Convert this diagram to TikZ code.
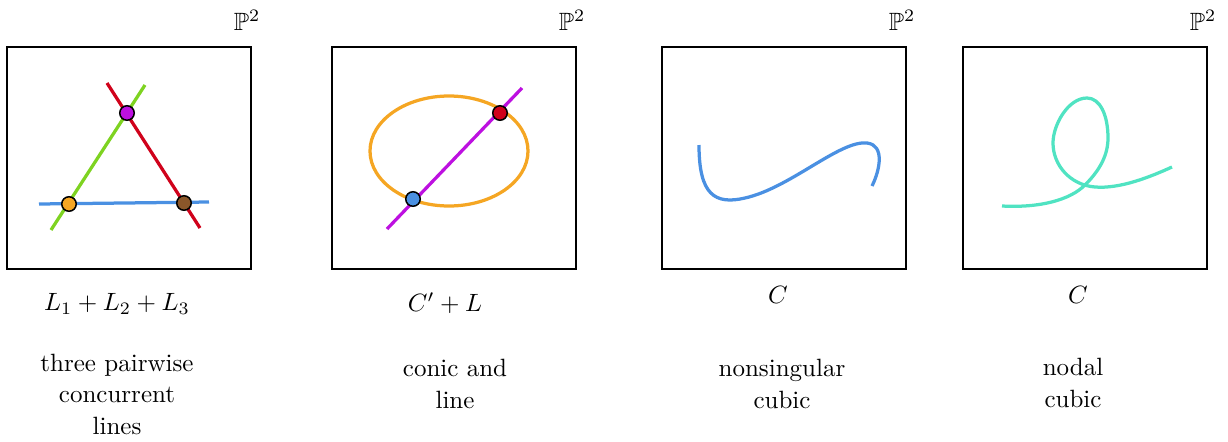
\documentclass[tikz,border=0pt]{standalone}
\usepackage{amssymb}
\definecolor{cred}{HTML}{D0021B}
\definecolor{cgreen}{HTML}{7ED321}
\definecolor{cblue}{HTML}{4A90E2}
\definecolor{corange}{HTML}{F5A623}
\definecolor{cmagenta}{HTML}{BD10E0}
\definecolor{cbrown}{HTML}{8B572A}
\definecolor{cteal}{HTML}{50E3C2}
\begin{document}
\begin{tikzpicture}[x=0.4pt,y=-0.4pt,
  plane/.style={draw,rectangle,line width=0.7pt,minimum width=97.6pt,minimum height=88.8pt},
  curve/.style={line width=1.3pt},
  pt/.style={circle,draw,line width=0.6pt,inner sep=0pt,minimum size=5.8pt},
  desc/.style={align=center,font={\fontsize{10}{12.6}\selectfont}}]
\useasboundingbox (0,0) rectangle (1228,441);
\node[plane] (a) at (129,158) {};
\node[plane] (b) at (454,158) {};
\node[plane] (c) at (784,158) {};
\node[plane] (d) at (1085,158) {};
\node (pa) at (247,20) {$\mathbb{P}^2$};
\node (pb) at (572,20) {$\mathbb{P}^2$};
\node (pc) at (902,20) {$\mathbb{P}^2$};
\node (pd) at (1203,20) {$\mathbb{P}^2$};
% three lines
\draw[curve,cred] (107,83) -- (200,228);
\draw[curve,cgreen] (145,85) -- (51,230);
\draw[curve,cblue] (39,204) -- (209,202);
\node[pt,fill=cmagenta] (q1) at (127,113) {};
\node[pt,fill=corange] (q2) at (69,204) {};
\node[pt,fill=cbrown] (q3) at (184,203) {};
% conic and line
\draw[curve,corange] (449,151) ellipse [x radius=79,y radius=55];
\draw[curve,cmagenta] (387,229) -- (522,88);
\node[pt,fill=cred] (r1) at (500,113) {};
\node[pt,fill=cblue] (r2) at (413,199) {};
% nonsingular cubic
\draw[curve,cblue] (699,145) .. controls (699,195) and (715,205) .. (745,198)
  .. controls (790,188) and (840,140) .. (867,143)
  .. controls (885,145) and (880,170) .. (872,186);
% nodal cubic
\draw[curve,cteal] (1002,206) .. controls (1040,208) and (1070,200) .. (1085,185)
  .. controls (1100,170) and (1108,155) .. (1108,138)
  .. controls (1108,115) and (1100,98) .. (1087,98)
  .. controls (1068,98) and (1053,125) .. (1053,143)
  .. controls (1053,165) and (1070,185) .. (1095,187)
  .. controls (1120,189) and (1150,177) .. (1172,167);
% labels
\node (la) at (117,304) {$L_1+L_2+L_3$};
\node (lb) at (445,303) {$C'+L$};
\node (lc) at (778,295) {$C$};
\node (ld) at (1078,295) {$C$};
\node[desc] (da) at (117,394) {three pairwise\\concurrent\\lines};
\node[desc] (db) at (455,384) {conic and\\line};
\node[desc] (dc) at (782,384) {nonsingular\\cubic};
\node[desc] (dd) at (1073,383) {nodal\\cubic};
\end{tikzpicture}
\end{document}
